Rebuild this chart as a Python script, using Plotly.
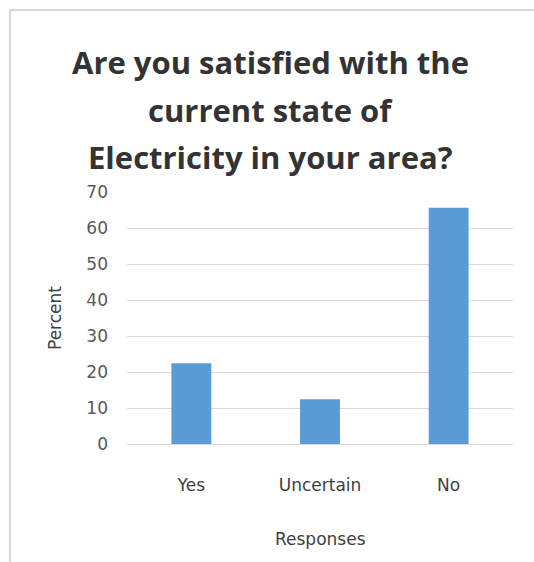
import plotly.graph_objects as go

categories = ["Yes", "Uncertain", "No"]
percent = [22.4, 12.4, 65.6]
y_ticks = [0, 10, 20, 30, 40, 50, 60, 70]
title_lines = ["Are you satisfied with the", "current state of", "Electricity in your area?"]

W, H = 534, 562
L, R, T, B = 127, 21, 192, 118
pw, ph = W - L - R, H - T - B

def px(x):
    return (x - L) / pw

def py(y):
    return (H - B - y) / ph

fig = go.Figure(go.Bar(
    x=categories, y=percent, marker=dict(color="#5b9bd5", line=dict(width=0)),
    width=0.31,
))

annotations = []
for line, yy in zip(title_lines, [62, 110, 157]):
    annotations.append(dict(text=f"<b>{line}</b>", xref="paper", yref="paper",
                            x=px(270), y=py(yy), showarrow=False, xanchor="center", yanchor="middle",
                            font=dict(family="Open Sans", size=31, color="#333333")))
annotations.append(dict(text="Percent", xref="paper", yref="paper", x=px(55), y=py(318),
                        textangle=-90, showarrow=False, xanchor="center", yanchor="middle",
                        font=dict(family="DejaVu Sans", size=17, color="#404040")))
annotations.append(dict(text="Responses", xref="paper", yref="paper", x=px(320), y=py(539),
                        showarrow=False, xanchor="center", yanchor="middle",
                        font=dict(family="DejaVu Sans", size=17, color="#404040")))

fig.update_layout(
    width=W, height=H, margin=dict(l=L, r=R, t=T, b=B),
    paper_bgcolor="white", plot_bgcolor="white", showlegend=False,
    annotations=annotations,
    shapes=[dict(type="rect", xref="paper", yref="paper", x0=px(10), x1=px(560), y0=py(580), y1=py(10),
                 line=dict(color="#d9d9d9", width=2), layer="below")],
    xaxis=dict(showgrid=False, showline=True, linecolor="#d9d9d9", linewidth=1, ticks="",
               tickfont=dict(family="DejaVu Sans", size=17, color="#404040"), ticklabelstandoff=26),
    yaxis=dict(range=[0, 70], tickvals=y_ticks, showgrid=True, gridcolor="#d9d9d9", gridwidth=1,
               zeroline=False, showline=False, ticks="", ticklabelstandoff=18,
               tickfont=dict(family="DejaVu Sans", size=17, color="#595959")),
)

fig.write_html("out.html")
